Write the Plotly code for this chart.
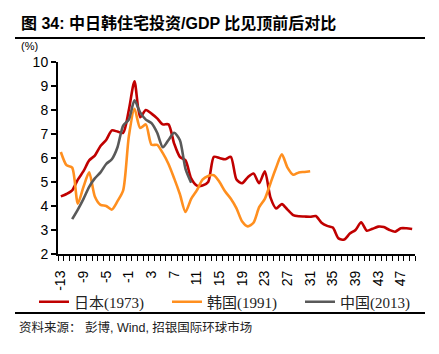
import plotly.graph_objects as go

periods_japan = list(range(-13, 50))
japan = [4.4, 4.5, 4.65, 5.1, 5.45, 5.9, 6.1, 6.5, 6.75, 7.15, 7.1, 7.05, 8.0,
         9.2, 7.7, 8.0, 7.85, 7.65, 7.4, 7.4, 6.6, 6.05, 5.9, 5.15, 4.85, 4.85,
         5.0, 6.05, 6.0, 5.95, 6.05, 5.1, 4.95, 5.2, 5.35, 4.95, 5.45, 4.35, 3.9,
         4.08, 3.85, 3.62, 3.57, 3.56, 3.55, 3.58, 3.3, 3.17, 3.1, 2.65, 2.6, 2.85,
         3.0, 3.32, 2.97, 3.05, 3.14, 3.12, 3.0, 2.93, 3.07, 3.07, 3.04]

periods_korea = list(range(-13, 32))
korea = [6.25, 5.7, 5.6, 4.1, 4.8, 5.4, 4.4, 4.05, 4.0, 3.85, 4.2, 4.65, 6.9,
         8.05, 7.25, 7.4, 6.55, 6.55, 6.2, 5.75, 5.15, 4.5, 3.75, 4.3, 4.65, 5.1,
         5.25, 5.28, 5.0, 4.6, 4.3, 3.9, 3.35, 3.15, 3.3, 3.95, 4.3, 4.95, 5.6,
         6.15, 5.6, 5.3, 5.4, 5.42, 5.45]

periods_china = list(range(-11, 11))
china = [3.45, 3.85, 4.3, 4.8, 5.15, 5.4, 5.75, 5.95, 6.45, 7.35, 7.6,
         8.4, 7.9, 7.6, 7.45, 7.05, 6.45, 6.75, 7.05, 6.75, 5.55, 4.97]

tick_labels = ["-13", "-9", "-5", "-1", "3", "7", "11", "15", "19", "23", "27",
               "31", "35", "39", "43", "47"]
tick_positions = [int(t) for t in tick_labels]

names = ["日本(1973)", "韩国(1991)", "中国(2013)"]
colors = ["#C00000", "#FF8F1F", "#595959"]

fig = go.Figure()
for xs, ys, nm, col in [(periods_japan, japan, names[0], colors[0]),
                        (periods_korea, korea, names[1], colors[1]),
                        (periods_china, china, names[2], colors[2])]:
    fig.add_trace(go.Scatter(x=xs, y=ys, name=nm, mode="lines",
                             line=dict(color=col, width=2.6, shape="spline", smoothing=0.7)))

L, R, T, B = 58, 415, 62, 254
W, H = 439, 354
def px(x):
    return (x - L) / (R - L)
def py(y):
    return (B - y) / (B - T)

sans = "Liberation Sans, Arial, Noto Sans CJK SC"
serif = "Liberation Serif, Noto Sans CJK SC"

fig.update_layout(
    width=W, height=H,
    margin=dict(l=L, r=W - R, t=T, b=H - B),
    paper_bgcolor="white", plot_bgcolor="white",
    showlegend=True,
    legend=dict(orientation="h", x=px(34), y=py(302), xanchor="left", yanchor="middle",
                font=dict(family=serif, size=15, color="#222"),
                entrywidth=88, entrywidthmode="pixels", bgcolor="rgba(0,0,0,0)",
                itemwidth=30),
    xaxis=dict(range=[-13.5, 49.5], tickmode="array", tickvals=tick_positions,
               ticktext=tick_labels, tickangle=-90, ticks="",
               tickfont=dict(family=sans, size=14, color="black"),
               ticklabelstandoff=9,
               showline=True, linecolor="black", linewidth=2, showgrid=False,
               zeroline=False,
               minor=dict(tickmode="linear", tick0=-13.5, dtick=1, ticks="outside",
                          ticklen=5, tickcolor="black", tickwidth=1, showgrid=False)),
    yaxis=dict(range=[2, 10], dtick=1, ticks="outside", ticklen=5, tickcolor="black",
               tickwidth=1.5,
               tickfont=dict(family=sans, size=14, color="black"),
               showline=True, linecolor="black", linewidth=2, showgrid=False,
               zeroline=False),
    annotations=[
        dict(text="<b>图 34: 中日韩住宅投资/GDP 比见顶前后对比</b>", xref="paper", yref="paper",
             x=px(19), y=py(23), xanchor="left", yanchor="middle", showarrow=False,
             font=dict(family=sans, size=16, color="black")),
        dict(text="(%)", xref="paper", yref="paper", x=px(19), y=py(46),
             xanchor="left", yanchor="middle", showarrow=False,
             font=dict(family=sans, size=11, color="black")),
        dict(text="资料来源： 彭博, Wind, 招银国际环球市场", xref="paper", yref="paper",
             x=px(17), y=py(327), xanchor="left", yanchor="middle", showarrow=False,
             font=dict(family=sans, size=12.5, color="#222")),
    ],
    shapes=[
        dict(type="line", xref="paper", yref="paper", x0=px(15), x1=px(425),
             y0=py(38), y1=py(38), line=dict(color="black", width=2)),
        dict(type="line", xref="paper", yref="paper", x0=px(15), x1=px(425),
             y0=py(313), y1=py(313), line=dict(color="black", width=2)),
    ],
)

fig.write_html("out.html")
